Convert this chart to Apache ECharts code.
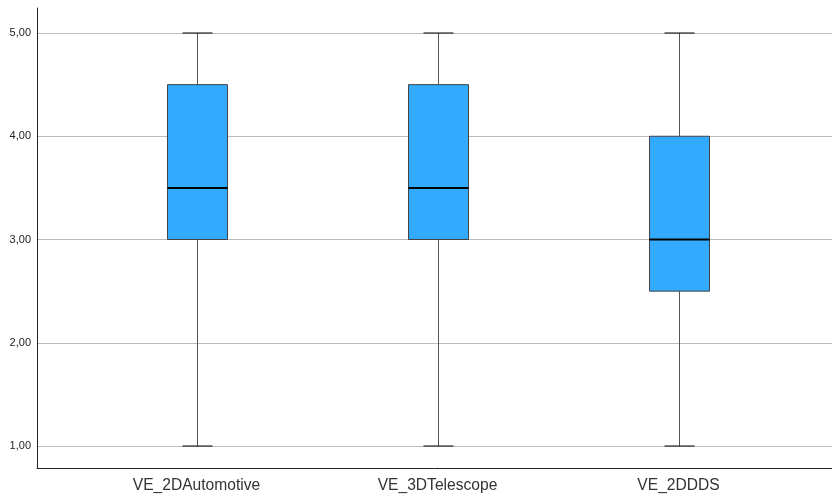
<!DOCTYPE html>
<html><head><meta charset="utf-8">
<script src="https://cdn.jsdelivr.net/npm/echarts@6/dist/echarts.min.js"></script>
<style>html,body{margin:0;padding:0;background:#fff}#c{width:832px;height:498px}</style>
</head><body><div id="c"></div>
<script>
var categories = ['VE_2DAutomotive', 'VE_3DTelescope', 'VE_2DDDS'];
var mins    = [1.0, 1.0, 1.0];
var q1s     = [3.0, 3.0, 2.5];
var medians = [3.5, 3.5, 3.0];
var q3s     = [4.5, 4.5, 4.0];
var maxs    = [5.0, 5.0, 5.0];
var yTicks  = [1, 2, 3, 4, 5];

var data = categories.map(function (c, i) { return [i, mins[i], q1s[i], medians[i], q3s[i], maxs[i]]; });

function renderItem(params, api) {
  var x = api.value(0);
  var pMin = api.coord([x, api.value(1)]);
  var pQ1 = api.coord([x, api.value(2)]);
  var pMed = api.coord([x, api.value(3)]);
  var pQ3 = api.coord([x, api.value(4)]);
  var pMax = api.coord([x, api.value(5)]);
  var band = api.size([1, 0])[0];
  var bw = band * 0.249;
  var cw = bw / 2;
  var cx = Math.round(pMed[0]) + 0.5;
  return {
    type: 'group',
    children: [
      { type: 'line', shape: { x1: cx, y1: pMax[1], x2: cx, y2: pQ3[1] }, style: { stroke: '#555', lineWidth: 1 } },
      { type: 'line', shape: { x1: cx, y1: pQ1[1], x2: cx, y2: pMin[1] }, style: { stroke: '#555', lineWidth: 1 } },
      { type: 'line', shape: { x1: cx - cw / 2, y1: pMax[1], x2: cx + cw / 2, y2: pMax[1] }, style: { stroke: '#000', lineWidth: 1 } },
      { type: 'line', shape: { x1: cx - cw / 2, y1: pMin[1], x2: cx + cw / 2, y2: pMin[1] }, style: { stroke: '#000', lineWidth: 1 } },
      { type: 'rect', shape: { x: cx - bw / 2, y: pQ3[1], width: bw, height: pQ1[1] - pQ3[1] }, style: { fill: '#32AAFF', stroke: '#444', lineWidth: 1 } },
      { type: 'line', shape: { x1: cx - bw / 2, y1: pMed[1], x2: cx + bw / 2, y2: pMed[1] }, style: { stroke: '#000', lineWidth: 2 } }
    ]
  };
}

var chart = echarts.init(document.getElementById('c'), null, { renderer: 'canvas' });
chart.setOption({
  animation: false,
  backgroundColor: '#fff',
  grid: [
    { left: 37, right: 0, top: 8, bottom: 30 },
    { left: 37, right: 0, top: 33, bottom: 52 },
    { left: 76, right: 33, top: 33, bottom: 52 }
  ],
  xAxis: [
    { gridIndex: 0, type: 'value', min: 0, max: 1, axisLine: { show: true, onZero: false, lineStyle: { color: '#222', width: 1 } }, axisTick: { show: false }, axisLabel: { show: false }, splitLine: { show: false } },
    { gridIndex: 1, type: 'value', min: 0, max: 1, show: false },
    { gridIndex: 2, type: 'category', data: categories, axisLine: { show: false }, axisTick: { show: false },
      axisLabel: { margin: 32, fontFamily: 'Liberation Sans, Arial, sans-serif', fontSize: 15.6, color: '#333' }, splitLine: { show: false } }
  ],
  yAxis: [
    { gridIndex: 0, type: 'value', min: 0, max: 1, axisLine: { show: true, onZero: false, lineStyle: { color: '#222', width: 1 } }, axisTick: { show: false }, axisLabel: { show: false }, splitLine: { show: false } },
    { gridIndex: 1, type: 'value', min: yTicks[0], max: yTicks[yTicks.length - 1], interval: 1,
      axisLine: { show: false }, axisTick: { show: false },
      axisLabel: { margin: 6, fontFamily: 'Liberation Sans, Arial, sans-serif', fontSize: 11, color: '#222',
        formatter: function (v) { return v.toFixed(2).replace('.', ','); } },
      splitLine: { show: true, lineStyle: { color: '#BBBBBB', width: 1 } } },
    { gridIndex: 2, type: 'value', min: yTicks[0], max: yTicks[yTicks.length - 1], show: false }
  ],
  series: [{
    type: 'custom', xAxisIndex: 2, yAxisIndex: 2, renderItem: renderItem, data: data, z: 10
  }]
});
</script></body></html>
